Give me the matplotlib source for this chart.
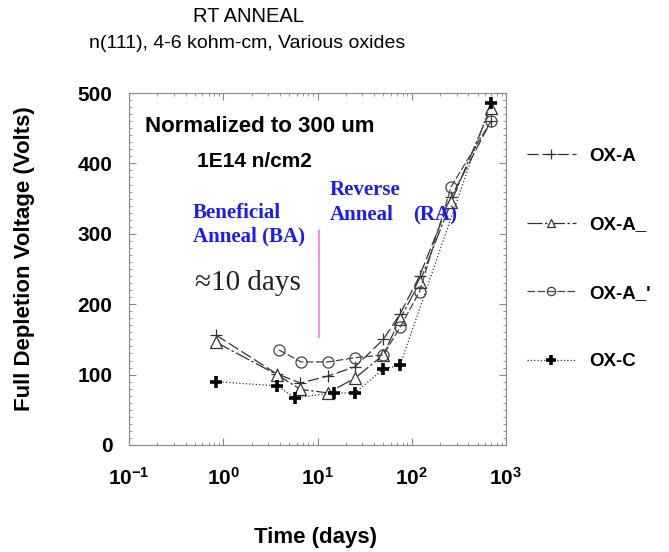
import matplotlib
matplotlib.use('Agg')
import matplotlib.pyplot as plt
import matplotlib.ticker as mticker
import numpy as np

plt.rcParams['font.family'] = ['Liberation Sans', 'DejaVu Sans']
plt.rcParams['mathtext.fontset'] = 'custom'
plt.rcParams['mathtext.rm'] = 'Liberation Sans:bold'
plt.rcParams['mathtext.default'] = 'rm'

# RT anneal data
t_oxa = [0.84, 3.7, 6.6, 12.9, 25, 50, 75, 121, 262, 692]
v_oxa = [156, 101, 88, 98, 111, 150, 186, 240, 352, 460]

t_oxa2 = [0.84, 3.7, 6.6, 12.9, 25, 50, 75, 121, 262, 692]
v_oxa2 = [146, 100, 79, 74, 95, 128, 179, 231, 345, 479]

t_oxa3 = [3.9, 6.7, 12.9, 25, 50, 75, 121, 262, 692]
v_oxa3 = [135, 118, 118, 124, 128, 167, 218, 367, 460]

t_oxc = [0.84, 3.7, 5.8, 14.8, 25, 50, 75, 692]
v_oxc = [90, 84, 67, 74, 74, 108, 113, 486]

labels = ['OX-A', 'OX-A_', "OX-A_'", 'OX-C']

# BA / RA boundary marker (~10 days)
boundary_day = 10.3
boundary_v = [153, 304]

fig = plt.figure(figsize=(6.69, 5.52), dpi=100)
ax = fig.add_axes([129/669, 1-445/552, 377/669, 352/552])

l1, = ax.plot(t_oxa, v_oxa, color='#333333', lw=0.9, dashes=(9, 3),
              marker='+', ms=9, mew=0.9, mec='#333333')
l2, = ax.plot(t_oxa2, v_oxa2, color='#333333', lw=0.9, dashes=(12, 2, 2, 2),
              marker='^', ms=8, mfc='white', mew=0.9, mec='#333333')
l3, = ax.plot(t_oxa3, v_oxa3, color='#444444', lw=0.9, dashes=(6, 2),
              marker='o', ms=8, mfc='none', mew=0.9, mec='#444444')
l4, = ax.plot(t_oxc, v_oxc, color='#333333', lw=0.9, ls=':',
              marker='+', ms=9, mew=2.6, mec='black')

ax.plot([boundary_day, boundary_day], boundary_v, color='#ff88ee', lw=1.5)

ax.set_xscale('log')
ax.set_xlim(0.1, 1000)
ax.set_ylim(0, 500)
ax.set_yticks([0, 100, 200, 300, 400, 500])
ax.yaxis.set_minor_locator(mticker.MultipleLocator(10))
ax.xaxis.set_minor_locator(mticker.LogLocator(base=10, subs=np.arange(2, 10), numticks=20))
ax.xaxis.set_minor_formatter(mticker.NullFormatter())
ax.set_xticks([0.1, 1, 10, 100, 1000])
ax.set_xticklabels([r'$10^{-1}$', r'$10^{0}$', r'$10^{1}$', r'$10^{2}$', r'$10^{3}$'])

for s in ax.spines.values():
    s.set_color('#888888')
    s.set_linewidth(0.8)
ax.tick_params(which='both', direction='in', top=True, right=True, color='#888888')
ax.tick_params(which='major', length=5, width=0.8)
ax.tick_params(which='minor', length=2.5, width=0.6)
ax.tick_params(axis='x', which='major', labelsize=15, pad=16)
ax.tick_params(axis='y', which='major', labelsize=15, pad=12)
for lab in ax.get_yticklabels():
    lab.set_fontweight('bold')

# annotations
ax.text(0.042, 0.906, 'Normalized to 300 um', transform=ax.transAxes,
        fontsize=16, fontweight='bold', ha='left', va='center')
ax.text(0.180, 0.804, '1E14 n/cm2', transform=ax.transAxes,
        fontsize=15, fontweight='bold', ha='left', va='center')
serif = ['Liberation Serif', 'DejaVu Serif']
blue = '#1a1aff'
ax.text(0.170, 0.659, 'Beneficial', transform=ax.transAxes, family=serif,
        fontsize=15, fontweight='bold', color=blue, ha='left', va='center')
ax.text(0.170, 0.591, 'Anneal (BA)', transform=ax.transAxes, family=serif,
        fontsize=15, fontweight='bold', color=blue, ha='left', va='center')
ax.text(0.533, 0.724, 'Reverse', transform=ax.transAxes, family=serif,
        fontsize=15, fontweight='bold', color=blue, ha='left', va='center')
ax.text(0.533, 0.653, 'Anneal', transform=ax.transAxes, family=serif,
        fontsize=15, fontweight='bold', color=blue, ha='left', va='center')
ax.text(0.753, 0.653, '(RA)', transform=ax.transAxes, family=serif,
        fontsize=15, fontweight='bold', color=blue, ha='left', va='center')
ax.text(0.175, 0.460, '\u224810 days', transform=ax.transAxes, family=serif,
        fontsize=21, color='#222222', ha='left', va='center')

# titles and axis labels
fig.text(248/669, 1-16/552, 'RT ANNEAL', fontsize=14.5, ha='center', va='center')
fig.text(247/669, 1-43/552, 'n(111), 4-6 kohm-cm, Various oxides', fontsize=14,
         ha='center', va='center')
fig.text(25/669, 1-259/552, 'Full Depletion Voltage (Volts)', fontsize=16,
         fontweight='bold', rotation=90, ha='center', va='center')
fig.text(316/669, 1-537/552, 'Time (days)', fontsize=16, fontweight='bold',
         ha='center', va='center')

fig.legend([l1, l2, l3, l4], labels, loc='center left',
           bbox_to_anchor=(527/669, 1-259/552), frameon=False,
           labelspacing=2.74, handlelength=2.6, handletextpad=0.7,
           borderpad=0, borderaxespad=0, markerscale=0.75,
           prop={'weight': 'bold', 'size': 13.5})

fig.savefig('out.png', dpi=100)
